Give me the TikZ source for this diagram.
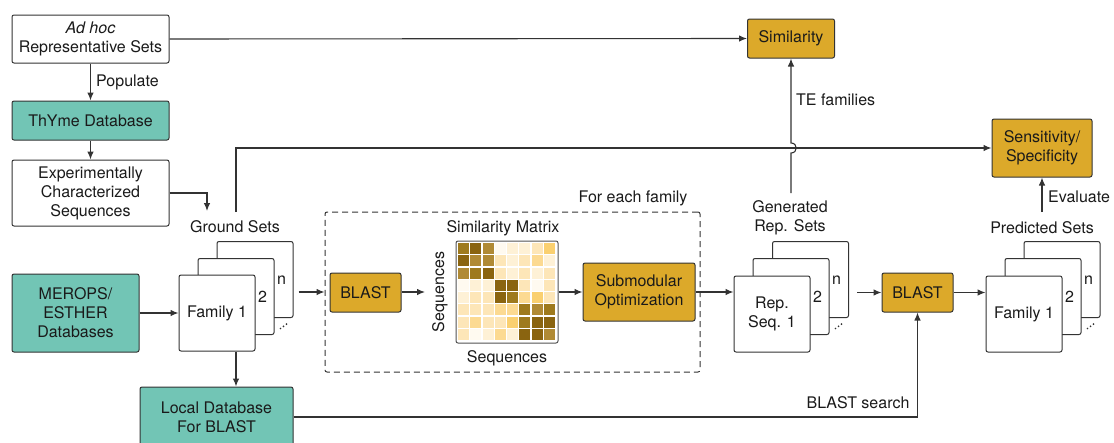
\documentclass[tikz,border=0pt]{standalone}
\usepackage{fontspec}
\setmainfont{TeX Gyre Heros}
\usetikzlibrary{arrows.meta,calc}
\definecolor{tealbox}{HTML}{72C5B5}
\definecolor{goldbox}{HTML}{DCA92A}
\definecolor{edgec}{HTML}{333333}
\definecolor{txtc}{HTML}{1A1A1A}
\definecolor{mDa}{HTML}{8A6410}
\definecolor{mDb}{HTML}{9E7A1E}
\definecolor{mDc}{HTML}{B08A35}
\definecolor{mLa}{HTML}{FFFAF0}
\definecolor{mLb}{HTML}{FEF1D6}
\definecolor{mLc}{HTML}{FDE6B8}
\definecolor{mLd}{HTML}{FCDA92}
\definecolor{mLe}{HTML}{FAD070}
\begin{document}
\begin{tikzpicture}[x=1pt,y=-1pt,
  font=\fontsize{16}{19}\selectfont,
  box/.style={draw=edgec, line width=1pt, rounded corners=2pt, align=center, inner sep=0pt, text=txtc},
  wbox/.style={box, fill=white},
  tbox/.style={box, fill=tealbox},
  gbox/.style={box, fill=goldbox},
  sheet/.style={wbox, minimum width=76pt, minimum height=76pt},
  arr/.style={draw=edgec, line width=1.1pt, -{Latex[length=8pt,width=6.5pt]}},
  ln/.style={draw=edgec, line width=1.1pt},
  lbl/.style={inner sep=0pt, text=txtc, align=center},
  dotc/.style={fill=edgec}]
\useasboundingbox (0,0) rectangle (1114,442);

% left column
\node[wbox, minimum width=157pt, minimum height=48pt] (adhoc) at (90.5,39) {\textit{Ad hoc}\\Representative Sets};
\node[tbox, minimum width=157pt, minimum height=39pt] (thyme) at (90.5,120.5) {ThYme Database};
\node[wbox, minimum width=157pt, minimum height=66pt] (exp) at (90.5,193) {Experimentally\\Characterized\\Sequences};
\node[tbox, minimum width=127pt, minimum height=78pt] (merops) at (75.5,313) {MEROPS/\\ESTHER\\Databases};

% ground sets stack
\node[lbl] (gslbl) at (235,227) {Ground Sets};
\node[sheet] (fam3) at (255,279.5) {};
\node[sheet] (fam2) at (236,296.5) {};
\node[sheet] (fam1) at (217,313) {Family 1};
\node[lbl] (famtwo) at (262.5,297) {2};
\node[lbl] (famn) at (281.5,280) {n};
\foreach \k in {0,1,2} \fill[dotc] (280.5+3*\k,328.5-2.2*\k) circle (0.95pt);

\node[tbox, minimum width=153pt, minimum height=60pt] (localdb) at (216.5,417) {Local Database\\For BLAST};

% dashed family box
\node[draw=edgec, line width=1pt, dash pattern=on 6pt off 4pt, rounded corners=2pt, minimum width=375pt, minimum height=160pt, inner sep=0pt] (dbox) at (512.5,292) {};
\node[lbl] (feflbl) at (633,198) {For each family};
\node[gbox, minimum width=71pt, minimum height=39pt] (blast1) at (365.5,292.5) {BLAST};

% similarity matrix
\foreach \r [count=\i] in {
  {mDb,mDa,mDc,mLa,mLb,mLb,mLc,mLe},
  {mDa,mDc,mDc,mLc,mLb,mLc,mLd,mLb},
  {mDc,mDb,mDa,mLc,mLb,mLc,mLb,mLc},
  {mLa,mLb,mLb,mDa,mDa,mLc,mLa,mLc},
  {mLb,mLc,mLc,mDa,mDb,mLd,mLe,mLc},
  {mLc,mLc,mLc,mLd,mLd,mDb,mDc,mDb},
  {mLc,mLd,mLc,mLc,mLe,mDb,mDa,mDa},
  {mLc,mLa,mLb,mLd,mLb,mDa,mDa,mDc}}{
  \foreach \c [count=\j] in \r {
    \fill[\c] ({458.2+(\j-1)*12.25},{243.2+(\i-1)*12.25}) rectangle +(11,11);
  }
}
\node[draw=edgec!85, line width=1pt, rounded corners=2pt, minimum size=102pt, inner sep=0pt] (mat) at (507,292) {};
\node[lbl] (smlbl) at (503,228) {Similarity Matrix};
\node[lbl] (seqb) at (507,358) {Sequences};
\node[lbl, rotate=90] (seql) at (440,292) {Sequences};
\coordinate (matin) at (425,292);
\node[gbox, minimum width=112pt, minimum height=58pt] (submod) at (639,292) {Submodular\\Optimization};

% generated rep sets
\node[lbl] (genlbl) at (790,218) {Generated\\Rep. Sets};
\node[sheet] (rep3) at (810.5,279.5) {};
\node[sheet] (rep2) at (791,296.5) {};
\node[sheet] (rep1) at (772,314) {Rep.\\Seq. 1};
\node[lbl] (reptwo) at (817.5,297) {2};
\node[lbl] (repn) at (836.5,280) {n};
\foreach \k in {0,1,2} \fill[dotc] (835.5+3*\k,328.5-2.2*\k) circle (0.95pt);

\node[gbox, minimum width=71pt, minimum height=39pt] (blast2) at (917.5,292.5) {BLAST};

% predicted sets
\node[lbl] (predlbl) at (1042,228) {Predicted Sets};
\node[sheet] (pred3) at (1062,279.5) {};
\node[sheet] (pred2) at (1043,296.5) {};
\node[sheet] (pred1) at (1024,314) {Family 1};
\node[lbl] (predtwo) at (1069.5,297) {2};
\node[lbl] (predn) at (1088.5,280) {n};
\foreach \k in {0,1,2} \fill[dotc] (1087.5+3*\k,328.5-2.2*\k) circle (0.95pt);

% top right
\node[gbox, minimum width=87pt, minimum height=39pt] (sim) at (791,38.5) {Similarity};
\node[gbox, minimum width=100pt, minimum height=58pt] (sens) at (1042,148) {Sensitivity/\\Specificity};

% labels
\node[lbl, anchor=west] (poplbl) at (96,82) {Populate};
\node[lbl, anchor=west] (telbl) at (796,100) {TE families};
\node[lbl, anchor=west] (evlbl) at (1048,197) {Evaluate};
\node[lbl] (bslbl) at (858,403) {BLAST search};

% coordinates for free ends
\coordinate (gsin) at (207,211);
\coordinate (gstop) at (236,212);
\coordinate (gentop) at (791,193);
\coordinate (evbot) at (1042,212);

% connectors
\draw[arr] (adhoc.east) -- (sim.west);
\draw[arr] (adhoc.south) -- (thyme.north);
\draw[arr] (thyme.south) -- (exp.north);
\draw[arr] (exp.east) -| (gsin);
\draw[arr] (gstop) |- (sens.west);
\draw[arr] (gentop) -- ($(gentop |- sens.west)+(0,5)$)
   .. controls ($(gentop |- sens.west)+(7,5)$) and ($(gentop |- sens.west)+(7,-5)$) .. ($(gentop |- sens.west)+(0,-5)$)
   -- (sim.south);
\draw[arr] (merops.east) -- (fam1.west |- merops.east);
\draw[arr] (fam1.south -| fam2) -- (localdb.north -| fam2);
\draw[arr] ($(fam3.east |- dbox.west)+(5,0)$) -- (dbox.west);
\draw[arr] (blast1.east |- matin) -- (matin);
\draw[arr] (mat.east) -- (submod.west |- mat.east);
\draw[arr] (submod.east) -- (rep1.west |- submod.east);
\draw[arr] ($(rep3.east |- blast2)+(8,0)$) -- (blast2.west);
\draw[arr] (blast2.east) -- (pred1.west |- blast2.east);
\draw[arr] (localdb.east) -| (blast2.south);
\draw[arr] (evbot) -- (sens.south);
\end{tikzpicture}
\end{document}
